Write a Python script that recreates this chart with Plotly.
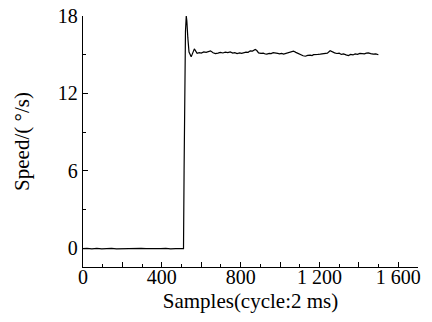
import plotly.graph_objects as go

samples = [0, 20, 45, 70, 95, 120, 145, 170, 195, 220, 245, 270, 295, 320, 345,
           370, 395, 420, 445, 470, 495, 510,
           513, 516, 520, 524, 527, 532, 538, 549, 557, 565,
           579, 590, 600, 613, 625, 636, 647, 660, 672, 685, 697, 710, 722, 735,
           747, 760, 770, 782, 795, 805, 815, 827, 838, 849, 860, 874, 882, 891,
           903, 915, 925, 933, 945, 955, 965, 976, 988, 998, 1008, 1018, 1030,
           1042, 1055, 1068, 1080, 1094, 1105, 1117, 1128, 1140, 1153, 1162, 1170,
           1182, 1192, 1204, 1216, 1229, 1240, 1254, 1265, 1277, 1288, 1300, 1311,
           1322, 1335, 1347, 1358, 1370, 1381, 1393, 1405, 1415, 1428, 1438, 1448,
           1460, 1473, 1486, 1499]
speed = [-0.05, -0.02, -0.06, -0.03, -0.07, -0.04, -0.02, -0.06, -0.05, -0.03,
         -0.07, -0.04, -0.02, -0.05, -0.06, -0.03, -0.05, -0.02, -0.06, -0.04,
         -0.05, -0.04,
         6.0, 15.0, 16.8, 18.0, 17.6, 16.3, 15.2, 14.83, 15.1, 15.45,
         15.1, 15.15, 15.12, 15.22, 15.18, 15.25, 15.3, 15.15, 15.08, 15.12,
         15.17, 15.13, 15.2, 15.16, 15.22, 15.12, 15.16, 15.09, 15.14, 15.1,
         15.15, 15.2, 15.18, 15.3, 15.28, 15.4, 15.32, 15.14, 15.1, 15.12, 15.05,
         15.04, 15.1, 15.08, 15.15, 15.14, 15.1, 15.06, 15.1, 15.04, 15.1, 15.14,
         15.2, 15.28, 15.18, 15.06, 15.02, 14.92, 14.88, 14.95, 14.96, 14.93,
         15.0, 14.98, 15.02, 15.04, 15.08, 15.14, 15.12, 15.3, 15.2, 15.14, 15.09,
         15.12, 15.02, 15.06, 14.98, 14.93, 15.02, 14.98, 15.06, 15.03, 15.1,
         15.09, 15.06, 15.12, 15.14, 15.08, 15.04, 15.06, 14.99]

x_tickvals = [0, 200, 400, 600, 800, 1000, 1200, 1400, 1600]
x_ticktext = ["0", "", "400", "", "800", "", "1 200", "", "1 600"]
y_tickvals = [0, 6, 12, 18]
y_ticktext = ["0", "6", "12", "18"]

FONT = "Liberation Serif, Times New Roman, serif"

fig = go.Figure()
fig.add_trace(go.Scatter(x=samples, y=speed, mode="lines",
                         line=dict(color="black", width=1.2),
                         showlegend=False, hoverinfo="skip"))

fig.update_layout(
    width=432, height=322,
    margin=dict(l=83, r=14, t=16, b=55, autoexpand=False),
    paper_bgcolor="white", plot_bgcolor="white",
    font=dict(family=FONT, size=20, color="black"),
)
fig.update_xaxes(
    range=[0, 1700], showgrid=False, zeroline=False,
    showline=True, linecolor="black", linewidth=1.3,
    tickmode="array", tickvals=x_tickvals, ticktext=x_ticktext,
    ticks="inside", ticklen=5, tickwidth=1, tickcolor="black",
    minor=dict(tickmode="linear", tick0=0, dtick=100, ticks="inside",
               ticklen=3, tickwidth=1, tickcolor="black"),
    tickfont=dict(family=FONT, size=20), ticklabelstandoff=-8,
    ticklabeloverflow="allow",
    title=dict(text="Samples(cycle:2 ms)", font=dict(family=FONT, size=21), standoff=6),
    automargin=False,
)
fig.update_yaxes(
    range=[-1.47, 18], showgrid=False, zeroline=False,
    showline=True, linecolor="black", linewidth=1.3,
    tickmode="array", tickvals=y_tickvals, ticktext=y_ticktext,
    ticks="inside", ticklen=5, tickwidth=1, tickcolor="black",
    minor=dict(tickmode="linear", tick0=0, dtick=3, ticks="inside",
               ticklen=3, tickwidth=1, tickcolor="black"),
    tickfont=dict(family=FONT, size=20), ticklabeloverflow="allow",
    title=dict(text="Speed/( °/s)", font=dict(family=FONT, size=21), standoff=22),
    automargin=False,
)

# remove the browser's default 8px body margin so the figure sits at the page origin
fig.write_html("out.html", config={"displayModeBar": False},
               post_script="document.body.style.margin='0';")
